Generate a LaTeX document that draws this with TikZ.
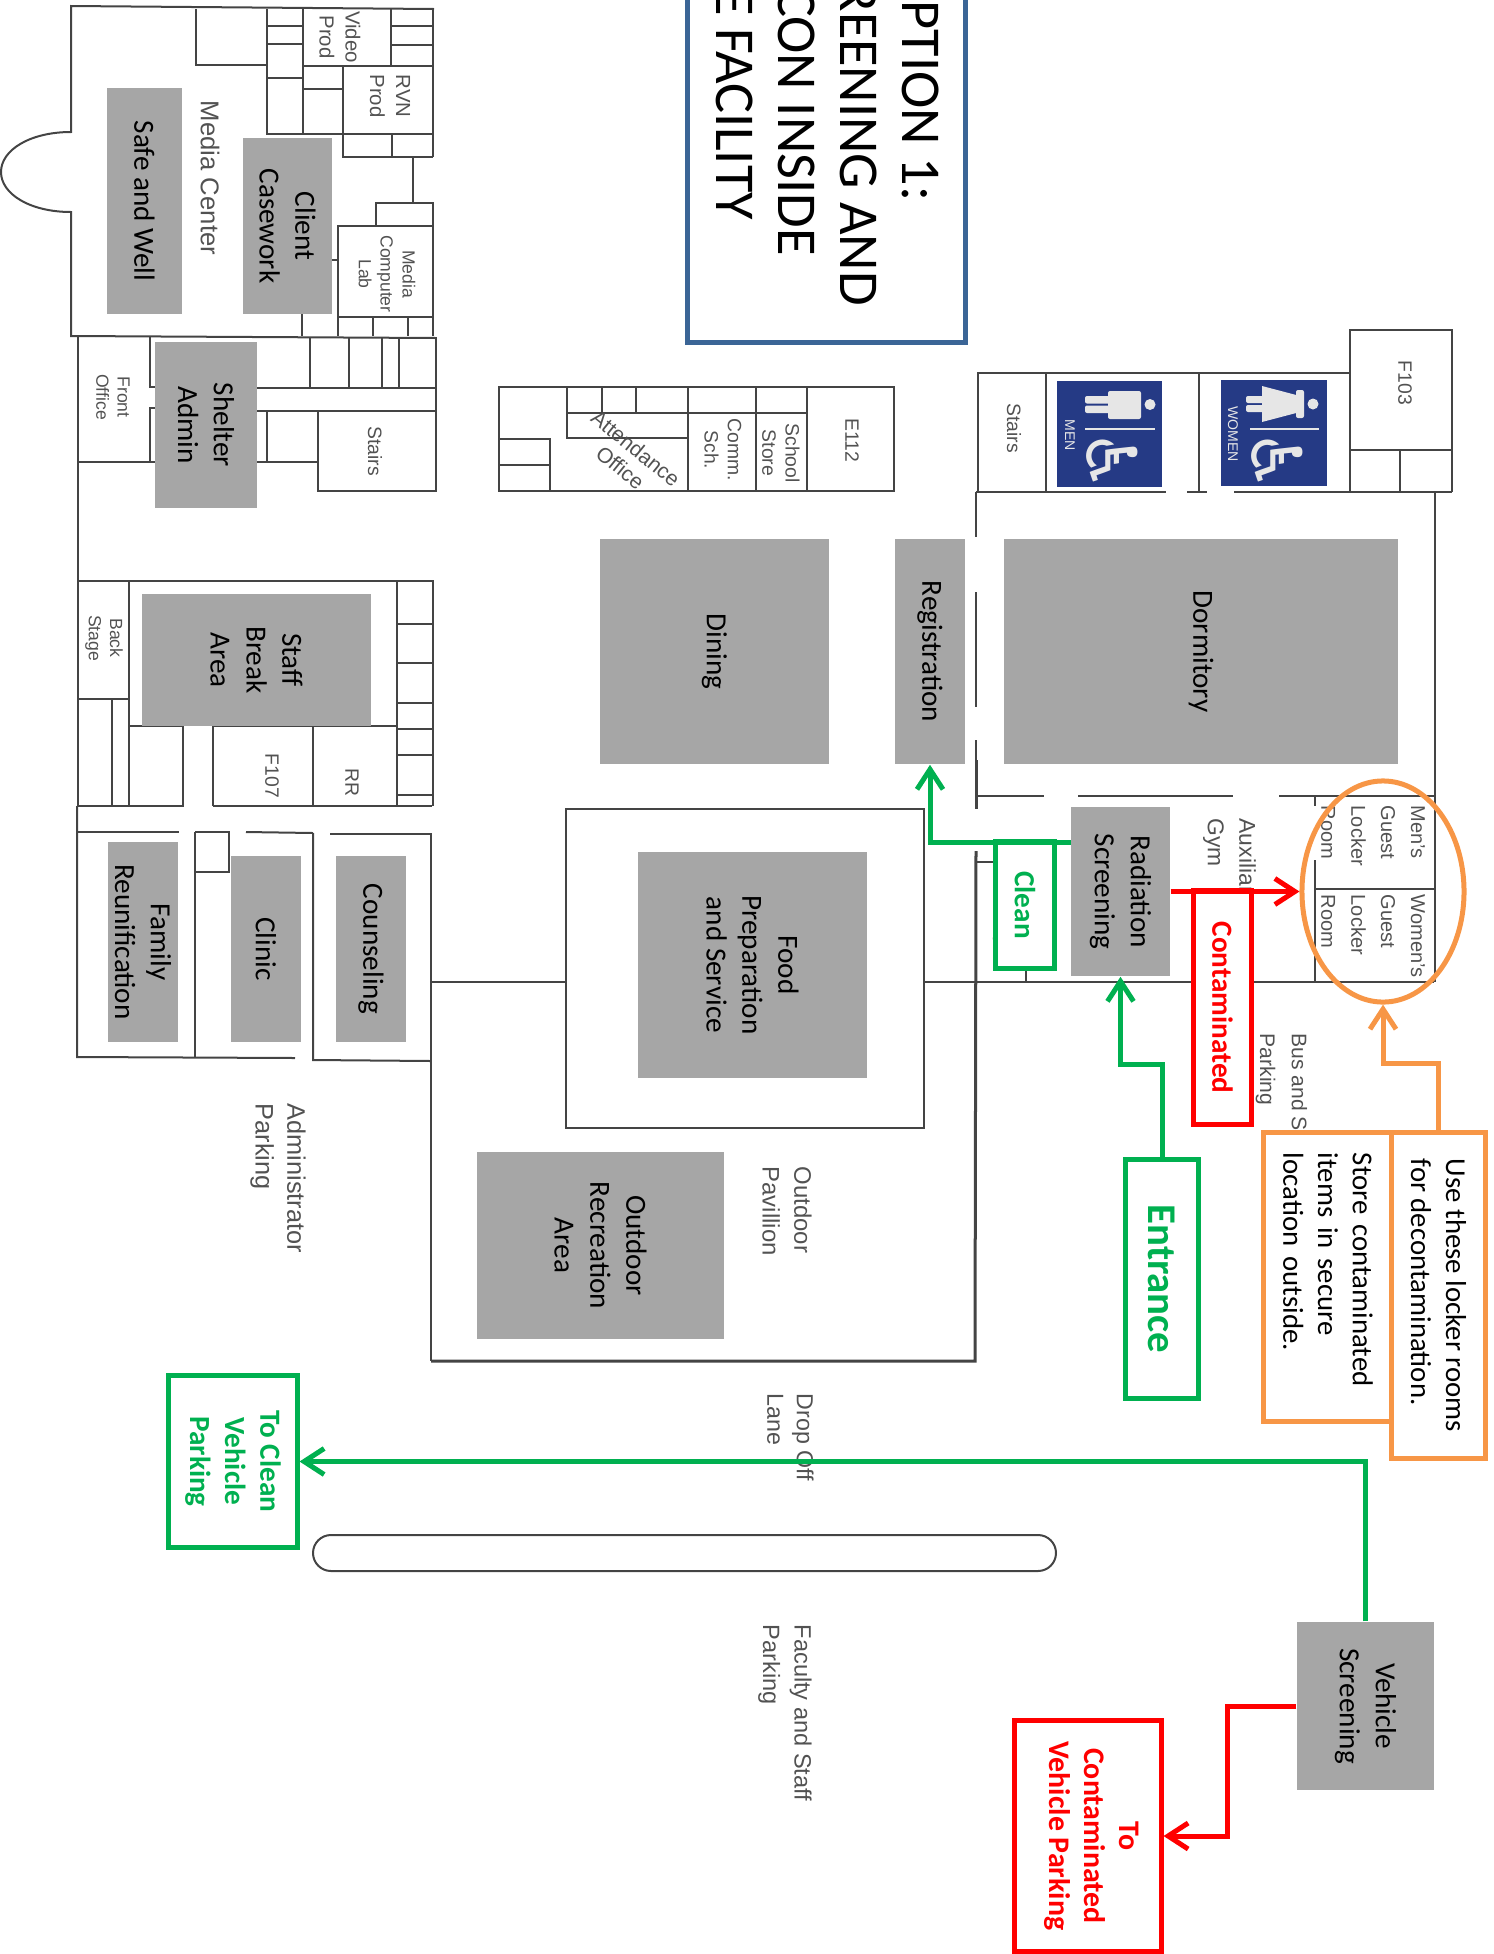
\documentclass[tikz,border=0pt]{standalone}
\usepackage{fontspec}
\setmainfont{Carlito}
\setsansfont{Liberation Sans}
\newfontfamily\symbolfont{DejaVu Sans}
\usetikzlibrary{arrows.meta,shapes.geometric}
\definecolor{roomgray}{HTML}{A6A6A6}
\definecolor{scangray}{HTML}{444444}
\definecolor{cleangreen}{HTML}{00B050}
\definecolor{dirtyred}{HTML}{FF0000}
\definecolor{noteorange}{HTML}{F79646}
\definecolor{titleblue}{HTML}{3B6596}
\definecolor{signblue}{HTML}{253A85}
\definecolor{signgray}{HTML}{E6E6E6}
\tikzset{
  wall/.style={draw=scangray, line width=0.2mm},
  thickwall/.style={draw=scangray, line width=0.3mm},
  room/.style={fill=roomgray, rotate=-90, align=center, inner sep=0pt, font=\fontsize{8.3}{10.2}\selectfont},
  scantext/.style={rotate=-90, anchor=west, align=left, inner sep=0pt, text=black!68, font=\sffamily\fontsize{6.8}{9}\selectfont},
  scansmall/.style={rotate=-90, align=center, inner sep=0pt, text=black!68, font=\sffamily\fontsize{5.5}{6.6}\selectfont},
  flowbox/.style={draw=#1, text=#1, fill=white, rotate=-90, align=center, line width=0.5mm, inner sep=0pt, font=\bfseries\fontsize{8.3}{10}\selectfont},
  notebox/.style={draw=noteorange, fill=white, rotate=-90, align=left, line width=0.5mm, inner ysep=0pt, inner xsep=0.2cm, font=\fontsize{8.2}{9.9}\selectfont},
  flow/.style={draw=#1, line width=0.5mm, -{Straight Barb[length=2mm,width=2.6mm]}},
  sign/.style={fill=signblue, minimum width=1.05cm, minimum height=1.06cm, inner sep=0pt},
  signtext/.style={rotate=-90, text=signgray, inner sep=0pt, font=\sffamily\fontsize{4}{5}\selectfont},
  chair/.style={rotate=-90, text=signgray, inner sep=0pt, font=\symbolfont\fontsize{20}{20}\selectfont}
}
\begin{document}
\begin{tikzpicture}[x=0.01cm,y=-0.01cm]
\useasboundingbox (0,0) rectangle (1494,1954);
% media center
\draw [wall] (434,9) -- (71,6) -- (71,132) .. controls (30,132) and (1,150) .. (1,172) .. controls (1,194) and (30,212) .. (71,212) -- (71,336) -- (436,338);
\draw [wall] (196,9) -- (196,65) -- (267,65);
\draw [wall] (267,9) -- (267,134) -- (433,134);
\draw [wall] (303,9) -- (303,134);
\draw [wall] (267,26) -- (303,26);
\draw [wall] (267,44) -- (303,44);
\draw [wall] (267,78) -- (303,78);
\draw [wall] (391,9) -- (391,66);
\draw [wall] (391,26) -- (433,26);
\draw [wall] (391,45) -- (433,45);
\draw [wall] (303,66) -- (433,66);
\draw [wall] (303,89) -- (343,89);
\draw [wall] (343,66) -- (343,157) -- (433,157);
\draw [wall] (392,134) -- (392,157);
\draw [wall] (433,9) -- (433,157);
\draw [wall] (413,157) -- (413,203);
\draw [wall] (376,226) -- (376,203) -- (433,203) -- (433,336);
\draw [wall] (338,336) -- (338,226) -- (433,226);
\draw [wall] (338,317) -- (433,317);
\draw [wall] (373,317) -- (373,336);
\draw [wall] (408,317) -- (408,336);
\draw [wall] (302,314) -- (302,336);
\draw [wall] (332,260) -- (338,260);
% shelter admin wing
\draw [wall] (78,337) -- (78,806);
\draw [wall] (78,581) -- (433,581) -- (433,806);
\draw [wall] (150,337) -- (150,387) -- (155,387);
\draw [wall] (155,408) -- (150,408) -- (150,462);
\draw [wall] (78,462) -- (155,462);
\draw [wall] (257,462) -- (318,462);
\draw [wall] (267,411) -- (267,462);
\draw [wall] (257,388) -- (436,388);
\draw [wall] (257,411) -- (436,411);
\draw [wall] (310,337) -- (310,388);
\draw [wall] (349,337) -- (349,388);
\draw [wall] (382,337) -- (382,388);
\draw [wall] (399,337) -- (399,388);
\draw [wall] (436,337) -- (436,491) -- (318,491) -- (318,411);
% back stage wing
\draw [wall] (129,581) -- (129,806);
\draw [wall] (78,699) -- (129,699);
\draw [wall] (112,699) -- (112,806);
\draw [wall] (77,806) -- (183,806) -- (183,726) -- (129,726);
\draw [wall] (213,806) -- (432,806);
\draw [wall] (213,806) -- (213,726) -- (397,726);
\draw [wall] (313,726) -- (313,806);
\draw [wall] (397,581) -- (397,806);
\draw [wall] (397,624) -- (432,624);
\draw [wall] (397,663) -- (432,663);
\draw [wall] (397,703) -- (432,703);
\draw [wall] (397,729) -- (432,729);
\draw [wall] (397,755) -- (432,755);
\draw [wall] (397,795) -- (432,795);
% clinic wing
\draw [wall] (78,832) -- (179,832);
\draw [wall] (77,806) -- (77,1057) -- (295,1058);
\draw [wall] (195,832) -- (229,832) -- (229,872) -- (195,872);
\draw [wall] (195,832) -- (195,1057);
\draw [wall] (246,832) -- (313,833);
\draw [wall] (330,834) -- (431,834) -- (431,1361);
\draw [wall] (313,833) -- (313,1060) -- (431,1061);
% kitchen and pavilion
\draw [wall] (431,982) -- (566,982);
\draw [wall] (566,809) rectangle (924,1128);
\draw [wall] (924,982) -- (1434,982);
\draw [thickwall] (431,1361) -- (975,1361) -- (976,851);
\draw [thickwall] (976,760) -- (976,809);
% e112 block
\draw [wall] (499,387) rectangle (894,491);
\draw [wall] (807,387) -- (807,491);
\draw [wall] (756,387) -- (756,491);
\draw [wall] (688,387) -- (688,491);
\draw [wall] (567,387) -- (567,438) -- (688,438);
\draw [wall] (567,413) -- (807,413);
\draw [wall] (602,387) -- (602,413);
\draw [wall] (636,387) -- (636,413);
\draw [wall] (550,491) -- (550,439) -- (499,439);
\draw [wall] (499,465) -- (550,465);
% dormitory block
\draw [wall] (978,492) -- (978,373) -- (1350,373);
\draw [wall] (1046,373) -- (1046,492);
\draw [wall] (1199,373) -- (1199,492);
\draw [wall] (1350,492) -- (1350,330) -- (1452,330) -- (1452,492);
\draw [wall] (1350,450) -- (1452,450);
\draw [wall] (1400,450) -- (1400,492);
\draw [wall] (976,492) -- (1166,492);
\draw [wall] (1187,492) -- (1207,492);
\draw [wall] (1234,492) -- (1452,492);
\draw [wall] (976,492) -- (976,537);
\draw [wall] (976,592) -- (976,707);
\draw [wall] (976,740) -- (976,760);
\draw [wall] (1435,492) -- (1435,982);
\draw [wall] (976,796) -- (1044,796);
\draw [wall] (1078,796) -- (1233,796);
\draw [wall] (1279,796) -- (1434,796);
\draw [wall] (976,862) -- (995,862);
\draw [wall] (1026,970) -- (1026,982);
\draw [wall] (1315,796) -- (1315,806);
\draw [wall] (1315,860) -- (1315,982);
\draw [wall] (1315,889) -- (1434,889);
% island
\draw [wall, rounded corners=0.18cm] (313,1535) rectangle (1056,1571);
% scanned labels
\node [scantext, anchor=center, font=\sffamily\fontsize{7.3}{9}\selectfont] (medialbl) at (210,178) {Media Center};
\node [scansmall, font=\sffamily\fontsize{5.8}{7.4}\selectfont] (videolbl) at (340,37) {Video\\Prod};
\node [scansmall, font=\sffamily\fontsize{5.8}{7.4}\selectfont] (rvnlbl) at (390,96) {RVN\\Prod};
\node [scansmall, font=\sffamily\fontsize{5}{6.2}\selectfont] (complbl) at (387,274) {Media\\Computer\\Lab};
\node [scansmall] (stairsa) at (375,451) {Stairs};
\node [scansmall, font=\sffamily\fontsize{5}{6}\selectfont] (frontlbl) at (113,397) {Front\\Office};
\node [scansmall, font=\sffamily\fontsize{5}{6}\selectfont] (backlbl) at (104,638) {Back\\Stage};
\node [scansmall] (f107) at (272,776) {F107};
\node [scansmall] (rrlbl) at (352,782) {RR};
\node [scansmall] (e112) at (852,440) {E112};
\node [scansmall] (storelbl) at (781,453) {School\\Store};
\node [scansmall] (commlbl) at (723,450) {Comm.\\Sch.};
\node [scansmall, rotate=51, font=\sffamily\fontsize{6}{7}\selectfont] (attlbl) at (628,458) {Attendance\\Office};
\node [scansmall] (stairsb) at (1014,428) {Stairs};
\node [scansmall] (f103) at (1405,383) {F103};
\node [scantext, font=\sffamily\fontsize{5.7}{8.5}\selectfont] (menslbl) at (1373,805) {Men's\\Guest\\Locker\\Room};
\node [scantext, font=\sffamily\fontsize{5.7}{8.5}\selectfont] (womenslbl) at (1373,894) {Women's\\Guest\\Locker\\Room};
\node [scantext, font=\sffamily\fontsize{6.5}{9}\selectfont] (gymlbl) at (1229.5,818) {Auxiliary\\Gym};
\node [scantext, font=\sffamily\fontsize{6}{9}\selectfont] (buslbl) at (1281.5,1033) {Bus and Staff\\Parking};
\node [scantext, font=\sffamily\fontsize{5.7}{7}\selectfont] (storagetxt) at (1002,885) {Storage};
\node [scantext] (pavlbl) at (787,1166) {Outdoor\\Pavillion};
\node [scantext, font=\sffamily\fontsize{7.2}{9}\selectfont] (adminlbl) at (278,1103) {Administrator\\Parking};
\node [scantext, font=\sffamily\fontsize{6.6}{8.4}\selectfont] (droplbl) at (790.5,1393) {Drop Off\\Lane};
\node [scantext, font=\sffamily\fontsize{6.7}{9}\selectfont] (facultylbl) at (785,1624) {Faculty and Staff\\Parking};
% rooms
\node [room, minimum width=2.26cm, minimum height=0.75cm] (safewell) at (144.5,201) {Safe and Well};
\node [room, minimum width=1.76cm, minimum height=0.89cm] (casework) at (287.5,226) {Client\\Casework};
\node [room, minimum width=1.66cm, minimum height=1.02cm] (shelter) at (206,425) {Shelter\\Admin};
\node [room, minimum width=1.32cm, minimum height=2.29cm] (staffbreak) at (256.5,660) {Staff\\Break\\Area};
\node [room, minimum width=2.00cm, minimum height=0.70cm] (family) at (143,942) {Family\\Reunification};
\node [room, minimum width=1.86cm, minimum height=0.70cm] (clinic) at (266,949) {Clinic};
\node [room, minimum width=1.86cm, minimum height=0.70cm] (counseling) at (371,949) {Counseling};
\node [room, minimum width=2.25cm, minimum height=2.29cm] (food) at (752.5,965) {Food\\Preparation\\and Service};
\node [room, minimum width=1.87cm, minimum height=2.47cm] (outdoor) at (600.5,1245.5) {Outdoor\\Recreation\\Area};
\node [room, minimum width=2.25cm, minimum height=2.29cm] (dining) at (714.5,651.5) {Dining};
\node [room, minimum width=2.25cm, minimum height=0.70cm] (registration) at (930,651.5) {Registration};
\node [room, minimum width=2.25cm, minimum height=3.94cm] (dormitory) at (1201,651.5) {Dormitory};
\node [room, minimum width=1.69cm, minimum height=0.99cm] (radiation) at (1120.5,891.5) {Radiation\\Screening};
\node [room, minimum width=1.68cm, minimum height=1.37cm] (vehicle) at (1365.5,1706) {Vehicle\\Screening};
% restroom signs
\node [sign] (mensign) at (1109.5,434) {};
\node [sign] (womensign) at (1274,433) {};
\fill [signgray] (1150,404.5) circle (0.055cm);
\fill [signgray, rounded corners=0.02cm] (1108,391) rectangle (1141,419);
\fill [signgray, rounded corners=0.02cm] (1085,396) rectangle (1112,403.5);
\fill [signgray, rounded corners=0.02cm] (1085,405.5) rectangle (1112,413);
\fill [signgray] (1085,428) rectangle (1155,430);
\node [chair] (menchair) at (1112,461) {\symbol{"267F}};
\node [signtext] (menlbl) at (1070,435) {MEN};
\fill [signgray] (1313,404) circle (0.055cm);
\fill [signgray, rounded corners=0.02cm] (1304,390) rectangle (1296,418);
\fill [signgray] (1300,396) -- (1300,412) -- (1262,422) -- (1262,386) -- cycle;
\fill [signgray, rounded corners=0.02cm] (1246,396) rectangle (1264,403);
\fill [signgray, rounded corners=0.02cm] (1246,405) rectangle (1264,412);
\fill [signgray] (1250,428) rectangle (1319,430);
\node [chair] (womenchair) at (1277,461) {\symbol{"267F}};
\node [signtext] (womenlbl) at (1233,434) {WOMEN};
% title
\draw [draw=titleblue, line width=0.5mm] (687,-10) -- (687,342) -- (965,342) -- (965,-10);
\node [rotate=-90, anchor=north west, align=left, inner sep=0pt, font=\fontsize{16}{17.7}\selectfont] (title) at (940,-75) {\hspace*{0.38cm}OPTION 1:\\SCREENING AND\\DECON INSIDE\\THE FACILITY};
% routes
\node [flowbox=cleangreen, minimum width=1.26cm, minimum height=0.58cm] (clean) at (1025,905) {Clean};
\node [flowbox=dirtyred, minimum width=2.33cm, minimum height=0.57cm] (contaminated) at (1222.5,1007.5) {Contaminated};
\node [flowbox=cleangreen, minimum width=2.38cm, minimum height=0.72cm, font=\bfseries\fontsize{11.6}{13}\selectfont] (entrance) at (1162,1279) {Entrance};
\node [notebox, minimum width=2.88cm, minimum height=1.28cm, text width=2.48cm] (storenote) at (1328,1277) {Store contaminated\\items in secure\\location outside.};
\node [notebox, minimum width=3.25cm, minimum height=0.93cm] (usenote) at (1438.5,1295.5) {Use these locker rooms\\for decontamination.};
\node [flowbox=cleangreen, minimum width=1.71cm, minimum height=1.28cm] (toclean) at (233,1461.5) {To Clean\\Vehicle\\Parking};
\node [flowbox=dirtyred, minimum width=2.30cm, minimum height=1.46cm, font=\bfseries\fontsize{8.5}{9.9}\selectfont] (tocontam) at (1088,1836) {To\\Contaminated\\Vehicle Parking\rule[-0.12cm]{0pt}{0pt}};
\node [draw=noteorange, line width=0.5mm, ellipse, inner sep=0pt, minimum width=1.62cm, minimum height=2.21cm] (lockers) at (1383,891.5) {};
\coordinate (cleanexit) at (1071,842);
\draw [flow=cleangreen] (cleanexit) -| (registration.east);
\draw [flow=dirtyred] (radiation.north) -- (lockers.west);
\draw [flow=cleangreen] (entrance.west) -- ++(0,-93) -| (radiation.east);
\draw [flow=noteorange] (usenote.west) -- ++(0,-67) -| (lockers.south);
\draw [flow=cleangreen] (vehicle.west) |- (toclean.north);
\draw [flow=dirtyred] (vehicle.south) -- ++(-69,0) |- (tocontam.north);
\end{tikzpicture}
\end{document}
